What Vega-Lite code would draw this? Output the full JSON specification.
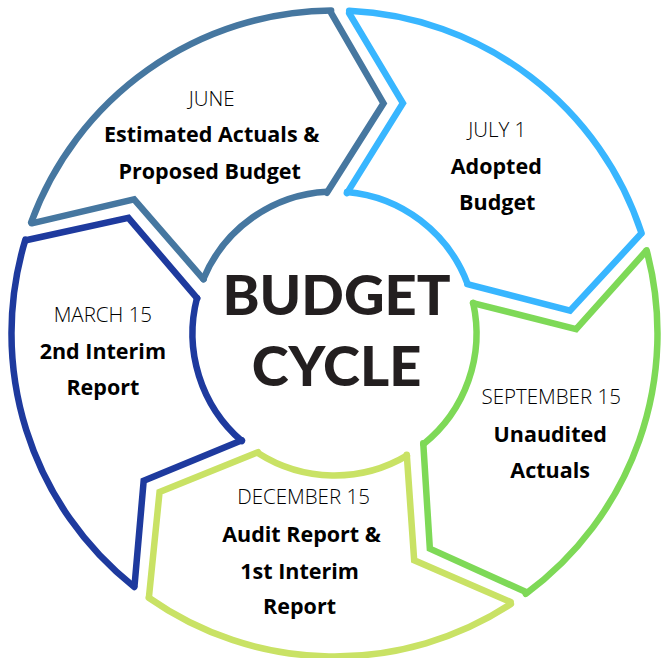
{
  "$schema": "https://vega.github.io/schema/vega-lite/v6.json",
  "width": 661,
  "height": 658,
  "autosize": {"type": "fit", "contains": "padding"},
  "padding": 0,
  "background": "white",
  "config": {"view": {"stroke": null}},
  "datasets": {
    "arcs": [
      {"seg": "June", "band": "outer", "t1": 290.1, "t2": 359.4, "r": 323},
      {"seg": "June", "band": "inner", "t1": 292.55, "t2": 356.95, "r": 142},
      {"seg": "July", "band": "outer", "t1": 2.6, "t2": 71.9, "r": 323},
      {"seg": "July", "band": "inner", "t1": 5.05, "t2": 69.45, "r": 142},
      {"seg": "September", "band": "outer", "t1": 75.1, "t2": 143.7, "r": 323},
      {"seg": "September", "band": "inner", "t1": 77.55, "t2": 141.25, "r": 142},
      {"seg": "December", "band": "outer", "t1": 146.9, "t2": 215.1, "r": 323},
      {"seg": "December", "band": "inner", "t1": 149.35, "t2": 212.65, "r": 142},
      {"seg": "March", "band": "outer", "t1": 218.3, "t2": 286.9, "r": 323},
      {"seg": "March", "band": "inner", "t1": 220.75, "t2": 284.45, "r": 142}
    ],
    "edges": [
      {"id": "june_start", "seg": "June", "o": 1, "x": 31.7, "y": 223.0},
      {"id": "june_start", "seg": "June", "o": 2, "x": 134.3, "y": 198.8},
      {"id": "june_start", "seg": "June", "o": 3, "x": 203.9, "y": 279.5},
      {"id": "june_end", "seg": "June", "o": 1, "x": 327.4, "y": 192.2},
      {"id": "june_end", "seg": "June", "o": 2, "x": 384.1, "y": 102.1},
      {"id": "june_end", "seg": "June", "o": 3, "x": 331.6, "y": 11.0},
      {"id": "july_start", "seg": "July", "o": 1, "x": 349.7, "y": 11.3},
      {"id": "july_start", "seg": "July", "o": 2, "x": 403.5, "y": 101.9},
      {"id": "july_start", "seg": "July", "o": 3, "x": 347.5, "y": 192.6},
      {"id": "july_end", "seg": "July", "o": 1, "x": 468.0, "y": 284.2},
      {"id": "july_end", "seg": "July", "o": 2, "x": 570.9, "y": 311.1},
      {"id": "july_end", "seg": "July", "o": 3, "x": 642.0, "y": 233.6},
      {"id": "sept_start", "seg": "September", "o": 1, "x": 647.1, "y": 250.9},
      {"id": "sept_start", "seg": "September", "o": 2, "x": 577.0, "y": 329.6},
      {"id": "sept_start", "seg": "September", "o": 3, "x": 473.7, "y": 303.4},
      {"id": "sept_end", "seg": "September", "o": 1, "x": 423.9, "y": 444.7},
      {"id": "sept_end", "seg": "September", "o": 2, "x": 430.5, "y": 550.9},
      {"id": "sept_end", "seg": "September", "o": 3, "x": 526.2, "y": 594.3},
      {"id": "dec_start", "seg": "December", "o": 1, "x": 511.4, "y": 604.6},
      {"id": "dec_start", "seg": "December", "o": 2, "x": 414.8, "y": 562.5},
      {"id": "dec_start", "seg": "December", "o": 3, "x": 407.4, "y": 456.2},
      {"id": "dec_end", "seg": "December", "o": 1, "x": 258.4, "y": 453.6},
      {"id": "dec_end", "seg": "December", "o": 2, "x": 159.8, "y": 493.7},
      {"id": "dec_end", "seg": "December", "o": 3, "x": 149.3, "y": 598.3},
      {"id": "march_start", "seg": "March", "o": 1, "x": 134.8, "y": 587.5},
      {"id": "march_start", "seg": "March", "o": 2, "x": 143.9, "y": 482.5},
      {"id": "march_start", "seg": "March", "o": 3, "x": 242.3, "y": 441.6},
      {"id": "march_end", "seg": "March", "o": 1, "x": 197.5, "y": 298.6},
      {"id": "march_end", "seg": "March", "o": 2, "x": 128.6, "y": 217.5},
      {"id": "march_end", "seg": "March", "o": 3, "x": 26.0, "y": 240.1}
    ],
    "months": [
      {"text": "JUNE", "x": 212, "y": 105},
      {"text": "JULY 1", "x": 498, "y": 136},
      {"text": "MARCH 15", "x": 103, "y": 322},
      {"text": "SEPTEMBER 15", "x": 552, "y": 405},
      {"text": "DECEMBER 15", "x": 304, "y": 506}
    ],
    "steps": [
      {"text": "Estimated Actuals &", "x": 212, "y": 141},
      {"text": "Proposed Budget", "x": 210, "y": 178},
      {"text": "Adopted", "x": 497, "y": 173},
      {"text": "Budget", "x": 498, "y": 210},
      {"text": "2nd Interim", "x": 103, "y": 360},
      {"text": "Report", "x": 103, "y": 396},
      {"text": "Unaudited", "x": 551, "y": 443},
      {"text": "Actuals", "x": 551, "y": 480},
      {"text": "Audit Report &", "x": 302, "y": 544},
      {"text": "1st Interim", "x": 300, "y": 581},
      {"text": "Report", "x": 300, "y": 617}
    ],
    "title": [
      {"text": "BUDGET", "x": 337, "y": 315},
      {"text": "CYCLE", "x": 337, "y": 387}
    ]
  },
  "layer": [
    {
      "data": {"name": "arcs"},
      "mark": {"type": "arc", "filled": false, "strokeWidth": 6.5, "strokeJoin": "round"},
      "encoding": {
        "x": {"datum": 335, "type": "quantitative", "scale": {"domain": [0, 661], "nice": false, "zero": false}, "axis": null},
        "y": {"datum": 334, "type": "quantitative", "scale": {"domain": [0, 658], "nice": false, "zero": false, "reverse": true}, "axis": null},
        "theta": {"field": "t1", "type": "quantitative", "stack": null, "scale": {"type": "linear", "domain": [0, 360], "range": [0, 6.283185307179586], "zero": false, "nice": false}},
        "theta2": {"field": "t2"},
        "radius": {"field": "r", "type": "quantitative", "scale": {"type": "linear", "domain": [0, 400], "range": [0, 400], "zero": true, "nice": false}},
        "radius2": {"field": "r"},
        "color": {"field": "seg", "type": "nominal", "scale": {"domain": ["June", "July", "September", "December", "March"], "range": ["#4677a0", "#38b6ff", "#7ed957", "#c9e265", "#1e3a9e"]}, "legend": null}
      }
    },
    {
      "data": {"name": "edges"},
      "mark": {"type": "line", "strokeWidth": 6.5, "strokeJoin": "miter", "strokeCap": "round"},
      "encoding": {
        "x": {"field": "x", "type": "quantitative", "scale": {"domain": [0, 661], "nice": false, "zero": false}, "axis": null},
        "y": {"field": "y", "type": "quantitative", "scale": {"domain": [0, 658], "nice": false, "zero": false, "reverse": true}, "axis": null},
        "detail": {"field": "id"},
        "order": {"field": "o", "type": "quantitative"},
        "color": {"field": "seg", "type": "nominal", "scale": {"domain": ["June", "July", "September", "December", "March"], "range": ["#4677a0", "#38b6ff", "#7ed957", "#c9e265", "#1e3a9e"]}, "legend": null}
      }
    },
    {
      "data": {"name": "months"},
      "mark": {"type": "text", "font": "Open Sans", "fontWeight": 300, "fontSize": 20.5, "baseline": "alphabetic", "align": "center", "color": "#000000"},
      "encoding": {
        "x": {"field": "x", "type": "quantitative"},
        "y": {"field": "y", "type": "quantitative"},
        "text": {"field": "text"}
      }
    },
    {
      "data": {"name": "steps"},
      "mark": {"type": "text", "font": "Open Sans", "fontWeight": 700, "fontSize": 21.5, "baseline": "alphabetic", "align": "center", "color": "#000000"},
      "encoding": {
        "x": {"field": "x", "type": "quantitative"},
        "y": {"field": "y", "type": "quantitative"},
        "text": {"field": "text"}
      }
    },
    {
      "data": {"name": "title"},
      "mark": {"type": "text", "font": "Lato", "fontWeight": 900, "fontSize": 56, "baseline": "alphabetic", "align": "center", "color": "#231f20"},
      "encoding": {
        "x": {"field": "x", "type": "quantitative"},
        "y": {"field": "y", "type": "quantitative"},
        "text": {"field": "text"}
      }
    }
  ]
}
